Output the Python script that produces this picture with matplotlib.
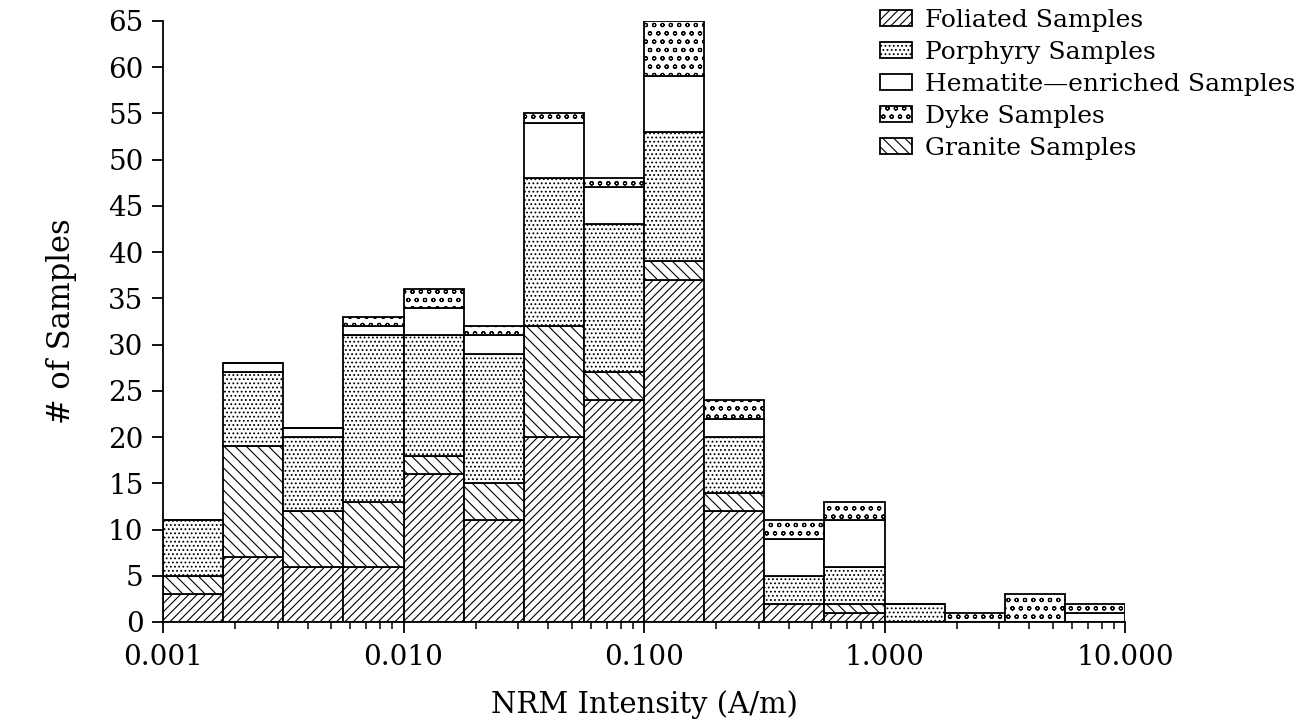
import numpy as np
import matplotlib
matplotlib.use('Agg')
import matplotlib.pyplot as plt
from matplotlib.ticker import FixedLocator, NullFormatter

plt.rcParams['font.family'] = ['DejaVu Serif']
plt.rcParams['hatch.linewidth'] = 0.8

# quarter-decade bins, 0.001 .. 10 A/m
bin_exp = np.linspace(-3, 1, 17)
edges = 10 ** bin_exp

# counts per bin, stacked bottom -> top
foliated = [3, 7, 6, 6, 16, 11, 20, 24, 37, 12, 2, 1, 0, 0, 0, 0]
granite = [2, 12, 6, 7, 2, 4, 12, 3, 2, 2, 0, 1, 0, 0, 0, 0]
porphyry = [6, 8, 8, 18, 13, 14, 16, 16, 14, 6, 3, 4, 2, 0, 0, 0]
hematite = [0, 1, 1, 1, 3, 2, 6, 4, 6, 2, 4, 5, 0, 0, 0, 1]
dyke = [0, 0, 0, 1, 2, 1, 1, 1, 6, 2, 2, 2, 0, 1, 3, 1]

series = [
    ('Foliated Samples', foliated, '////'),
    ('Granite Samples', granite, '\\\\\\'),
    ('Porphyry Samples', porphyry, '....'),
    ('Hematite\u2014enriched Samples', hematite, None),
    ('Dyke Samples', dyke, 'oo'),
]
legend_order = ['Foliated Samples', 'Porphyry Samples',
                'Hematite\u2014enriched Samples', 'Dyke Samples',
                'Granite Samples']

xticks = [0.001, 0.01, 0.1, 1.0, 10.0]
xticklabels = ['0.001', '0.010', '0.100', '1.000', '10.000']
yticks = list(range(0, 70, 5))

fig = plt.figure(figsize=(13.11, 7.27), dpi=100)
ax = fig.add_axes([163 / 1311, 1 - 622 / 727, (1125 - 163) / 1311,
                   (622 - 21) / 727])

left = edges[:-1]
widths = np.diff(edges)
bottom = np.zeros(len(left))
handles = {}
for name, vals, hatch in series:
    vals = np.asarray(vals, dtype=float)
    bars = ax.bar(left, vals, width=widths, bottom=bottom, align='edge',
                  facecolor='white', edgecolor='black', linewidth=1.3,
                  hatch=hatch, label=name)
    handles[name] = bars
    bottom = bottom + vals

ax.set_xscale('log')
ax.set_xlim(0.001, 10)
ax.set_ylim(0, 65)
ax.set_xticks(xticks)
ax.set_xticklabels(xticklabels)
ax.xaxis.set_minor_locator(FixedLocator(
    [m * 10.0 ** e for e in range(-3, 1) for m in range(2, 10)]))
ax.xaxis.set_minor_formatter(NullFormatter())
ax.set_yticks(yticks)

for sp in ('top', 'right'):
    ax.spines[sp].set_visible(False)
for sp in ('left', 'bottom'):
    ax.spines[sp].set_linewidth(1.3)

ax.tick_params(axis='both', which='major', direction='out', length=8,
               width=1.3, labelsize=20)
ax.tick_params(axis='x', which='major', pad=8)
ax.tick_params(axis='y', which='major', pad=6)
ax.tick_params(axis='x', which='minor', direction='out', length=5,
               width=1.1)

ax.set_xlabel('NRM Intensity (A/m)', fontsize=21, labelpad=14)
ax.set_ylabel('# of Samples', fontsize=22, labelpad=22)

leg = fig.legend([handles[n] for n in legend_order], legend_order,
                 loc='upper left', bbox_to_anchor=(880 / 1311, 1 - 9 / 727),
                 frameon=False, fontsize=18, handlelength=1.3,
                 handleheight=0.6, handletextpad=0.5, labelspacing=0.36,
                 borderpad=0, borderaxespad=0)

fig.savefig('out.png', dpi=100)
